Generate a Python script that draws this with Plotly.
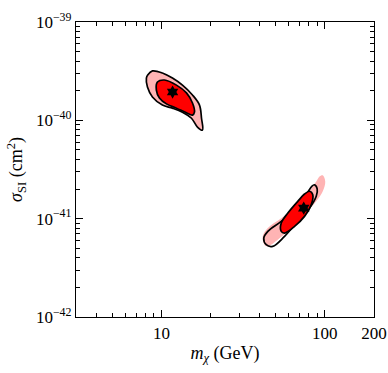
import plotly.graph_objects as go

# contour outlines (mass in GeV, cross section in cm^2)
low_outer_m = [8.24, 8.81, 10.14, 11.68, 13.45, 15.49, 17.10, 17.59, 17.83,
               16.61, 15.27, 13.45, 11.68, 10.14, 8.81, 8.21, 8.09]
low_outer_s = [2.89e-40, 3.18e-40, 3.03e-40, 2.69e-40, 2.28e-40, 1.81e-40, 1.43e-40, 1.05e-40, 7.96e-41,
               8.55e-41, 1.05e-40, 1.21e-40, 1.33e-40, 1.43e-40, 1.73e-40, 2.18e-40, 2.69e-40]
low_inner_m = [9.45, 10.43, 12.36, 14.23, 15.49, 15.93, 15.49, 14.23, 12.36, 10.73, 9.72, 9.31]
low_inner_s = [2.45e-40, 2.57e-40, 2.28e-40, 1.90e-40, 1.50e-40, 1.21e-40, 1.13e-40, 1.19e-40,
               1.33e-40, 1.47e-40, 1.69e-40, 2.03e-40]

high_fill_m = [97.2, 100.6, 97.2, 88.6, 75.1, 62.3, 51.5, 44.8, 42.7, 41.7, 44.8, 54.1, 65.3, 78.7, 88.6, 92.8]
high_fill_s = [2.76e-41, 2.39e-41, 1.90e-41, 1.50e-41, 1.10e-41, 8.02e-42, 6.10e-42, 5.23e-42, 5.43e-42,
               6.61e-42, 8.02e-42, 1.01e-41, 1.28e-41, 1.82e-41, 2.39e-41, 2.69e-41]
high_outer_m = [86.5, 89.8, 88.6, 80.6, 68.3, 56.7, 48.0, 43.8, 42.3, 44.8, 54.1, 65.3, 76.9, 83.2]
high_outer_s = [2.21e-41, 2.01e-41, 1.69e-41, 1.28e-41, 9.39e-42, 6.61e-42, 5.23e-42, 5.43e-42,
                6.35e-42, 7.43e-42, 9.39e-42, 1.23e-41, 1.75e-41, 2.13e-41]
high_inner_m = [80.6, 84.4, 82.5, 75.1, 65.3, 56.7, 54.1, 54.1, 59.4, 68.3, 75.1]
high_inner_s = [1.90e-41, 1.75e-41, 1.38e-41, 1.055e-41, 8.35e-42, 7.14e-42, 7.43e-42, 9.02e-42,
                1.14e-41, 1.50e-41, 1.78e-41]

best_m = [11.7, 74.3]
best_s = [1.94e-40, 1.28e-41]

x_ticks = [10, 100, 200]
x_labels = ["10", "100", "200"]
y_ticks = [1e-42, 1e-41, 1e-40, 1e-39]
y_labels = ["10<sup>\u221242</sup>", "10<sup>\u221241</sup>", "10<sup>\u221240</sup>", "10<sup>\u221239</sup>"]

PINK = "rgb(255,180,180)"
RED = "rgb(255,0,0)"


def closed(a):
    return list(a) + [a[0]]


fig = go.Figure()

# high-mass region: pink area sticks out past the black contour
fig.add_trace(go.Scatter(x=closed(high_fill_m), y=closed(high_fill_s), mode="lines",
                         line=dict(width=0, shape="spline"), fill="toself", fillcolor=PINK))
fig.add_trace(go.Scatter(x=closed(high_outer_m), y=closed(high_outer_s), mode="lines",
                         line=dict(color="black", width=1.7, shape="spline")))
fig.add_trace(go.Scatter(x=closed(high_inner_m), y=closed(high_inner_s), mode="lines",
                         line=dict(color="black", width=1.7, shape="spline"),
                         fill="toself", fillcolor=RED))

# low-mass region
fig.add_trace(go.Scatter(x=closed(low_outer_m), y=closed(low_outer_s), mode="lines",
                         line=dict(color="black", width=1.7, shape="spline"),
                         fill="toself", fillcolor=PINK))
fig.add_trace(go.Scatter(x=closed(low_inner_m), y=closed(low_inner_s), mode="lines",
                         line=dict(color="black", width=1.7, shape="spline"),
                         fill="toself", fillcolor=RED))

# best-fit points
fig.add_trace(go.Scatter(x=best_m, y=best_s, mode="markers",
                         marker=dict(symbol="hexagram", size=10, color="black")))

x_minor = [3, 4, 5, 6, 7, 8, 9, 20, 30, 40, 50, 60, 70, 80, 90]
y_minor = [k * 10.0 ** e for e in (-42, -41, -40) for k in range(2, 10)]

axis_font = dict(family="Liberation Serif", size=17, color="black")
title_font = dict(family="Liberation Serif", size=18, color="black")

fig.update_xaxes(type="log", range=[0.4771, 2.30103], tickmode="array",
                 tickvals=x_ticks, ticktext=x_labels, ticks="inside", ticklen=7,
                 tickcolor="black", showline=True, linecolor="black", linewidth=1.2,
                 mirror="allticks", showgrid=False, zeroline=False, tickfont=axis_font,
                 automargin=False,
                 minor=dict(tickmode="array", tickvals=x_minor, ticks="inside",
                            ticklen=4, tickcolor="black", showgrid=False),
                 title=dict(text="<i>m</i><sub><i>\u03c7</i></sub> (GeV)",
                            font=title_font, standoff=4))
fig.update_yaxes(type="log", range=[-42, -39], tickmode="array",
                 tickvals=y_ticks, ticktext=y_labels, ticks="inside", ticklen=7,
                 tickcolor="black", showline=True, linecolor="black", linewidth=1.2,
                 mirror="allticks", showgrid=False, zeroline=False, tickfont=axis_font,
                 automargin=False,
                 minor=dict(tickmode="array", tickvals=y_minor, ticks="inside",
                            ticklen=4, tickcolor="black", showgrid=False),
                 title=dict(text="<i>\u03c3</i><sub>SI</sub> (cm<sup>2</sup>)",
                            font=title_font, standoff=8))

fig.update_layout(width=388, height=373, showlegend=False,
                  margin=dict(l=76, r=14, t=22, b=56),
                  paper_bgcolor="white", plot_bgcolor="white")

# drop the page's default body margin so the figure sits at the window origin
fig.write_html("out.html", config={"displayModeBar": False},
               post_script="document.body.style.margin='0';")
